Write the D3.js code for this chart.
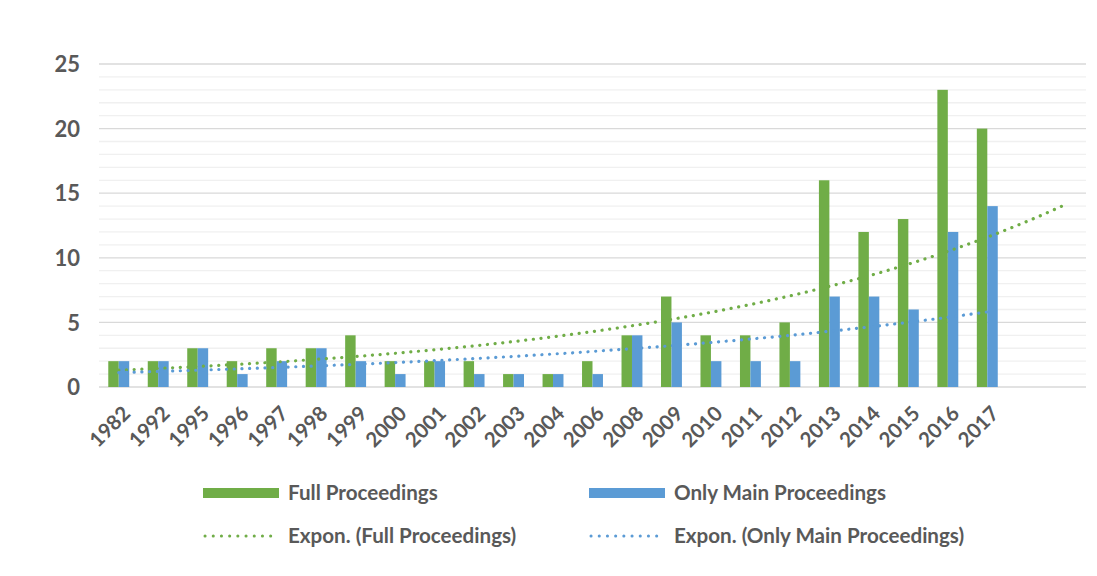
<!DOCTYPE html>
<html>
<head>
<meta charset="utf-8">
<script src="https://cdn.jsdelivr.net/npm/d3@7"></script>
<style>
  html, body { margin: 0; padding: 0; background: #fff; }
  svg text { font-family: Lato, "Open Sans", sans-serif; fill: #595959; }
</style>
</head>
<body>
<svg id="chart" width="1097" height="576"></svg>
<script>
const years = ["1982","1992","1995","1996","1997","1998","1999","2000","2001","2002","2003","2004","2006","2008","2009","2010","2011","2012","2013","2014","2015","2016","2017"];
const fullProceedings = [2,2,3,2,3,3,4,2,2,2,1,1,2,4,7,4,4,5,16,12,13,23,20];
const onlyMainProceedings = [2,2,3,1,2,3,2,1,2,1,1,1,1,4,5,2,2,2,7,7,6,12,14];
const yTicks = [0,5,10,15,20,25];
const forecastForward = 2; // forward periods for full-proceedings trend

const seriesNames = ["Full Proceedings","Only Main Proceedings"];
const trendNames = ["Expon. (Full Proceedings)","Expon. (Only Main Proceedings)"];
const colors = ["#70AD47","#5B9BD5"];

(function () {
const svg = d3.select("#chart");
const pLeft = 99, pRight = 1086, pTop = 64, pBottom = 387;

// band slots: data categories + forecast slots
const slots = years.concat(d3.range(forecastForward).map(i => "_f" + i));
const x = d3.scaleBand().domain(slots).range([pLeft, pRight]).paddingInner(0).paddingOuter(0);
const y = d3.scaleLinear().domain([0, 25]).range([pBottom, pTop]);
const bw = x.bandwidth();
const barW = bw * 0.265;

// gridlines (minor every 1, major every 5)
const minor = d3.range(1, 26).filter(v => v % 5 !== 0);
svg.append("g").selectAll("line").data(minor).join("line")
  .attr("x1", pLeft).attr("x2", pRight)
  .attr("y1", d => y(d)).attr("y2", d => y(d))
  .attr("stroke", "#f0f0f0").attr("stroke-width", 1.3);
svg.append("g").selectAll("line").data(yTicks.filter(v => v > 0)).join("line")
  .attr("x1", pLeft).attr("x2", pRight)
  .attr("y1", d => y(d)).attr("y2", d => y(d))
  .attr("stroke", "#d9d9d9").attr("stroke-width", 1.3);
svg.append("line").attr("x1", pLeft).attr("x2", pRight)
  .attr("y1", y(0)).attr("y2", y(0)).attr("stroke", "#d9d9d9").attr("stroke-width", 1.5);

// y axis labels
const yAxis = d3.axisLeft(y).tickValues(yTicks).tickSize(0).tickPadding(0);
const gy = svg.append("g").attr("transform", `translate(${pLeft - 19},0)`).call(yAxis);
gy.select(".domain").remove();
gy.selectAll("text").attr("font-size", 22).attr("fill", "#595959").attr("font-weight", 700)
  .style("font-family", "Lato, sans-serif").attr("dy", "0.35em");

// bars
const series = [fullProceedings, onlyMainProceedings];
series.forEach((vals, si) => {
  svg.append("g").selectAll("rect").data(vals).join("rect")
    .attr("x", (d, i) => x(years[i]) + bw / 2 + (si === 0 ? -barW : 0))
    .attr("width", barW)
    .attr("y", d => y(d))
    .attr("height", d => y(0) - y(d))
    .attr("fill", colors[si]);
});

// exponential trendlines (least squares on ln y, x = 1..n)
function expFit(vals) {
  const n = vals.length;
  const xs = d3.range(1, n + 1);
  const ls = vals.map(v => Math.log(v));
  const mx = d3.mean(xs), ml = d3.mean(ls);
  let sxy = 0, sxx = 0;
  xs.forEach((xi, i) => { sxy += (xi - mx) * (ls[i] - ml); sxx += (xi - mx) * (xi - mx); });
  const b = sxy / sxx, a = ml - b * mx;
  return t => Math.exp(a + b * t);
}
const xPos = t => x(years[0]) + bw / 2 + (t - 1) * bw;
const forwards = [forecastForward - 0.08, 0];
series.forEach((vals, si) => {
  const f = expFit(vals);
  const tEnd = vals.length + forwards[si];
  const pts = d3.range(1, tEnd, 0.1).concat([tEnd]).map(t => [xPos(t), y(f(t))]);
  svg.append("path").attr("d", d3.line()(pts))
    .attr("fill", "none").attr("stroke", colors[si]).attr("stroke-width", 3.2)
    .attr("stroke-linecap", "round").attr("stroke-dasharray", "0.1 7.6");
});

// x axis labels
const gx = svg.append("g");
gx.selectAll("text").data(years).join("text")
  .attr("transform", d => `translate(${x(d) + bw / 2 + 2},${pBottom + 17}) rotate(-45)`)
  .attr("text-anchor", "end").attr("dy", "0.75em")
  .attr("font-size", 20.5).attr("font-weight", 700)
  .text(d => d);

// legend
const legend = [
  {name: seriesNames[0], color: colors[0], type: "bar", x: 203, y: 493},
  {name: seriesNames[1], color: colors[1], type: "bar", x: 589, y: 493},
  {name: trendNames[0], color: colors[0], type: "dot", x: 203, y: 536},
  {name: trendNames[1], color: colors[1], type: "dot", x: 589, y: 536}
];
legend.forEach(l => {
  if (l.type === "bar") {
    svg.append("rect").attr("x", l.x).attr("y", l.y - 5).attr("width", 76).attr("height", 10).attr("fill", l.color);
  } else {
    svg.append("line").attr("x1", l.x + 2).attr("x2", l.x + 75).attr("y1", l.y).attr("y2", l.y)
      .attr("stroke", l.color).attr("stroke-width", 3).attr("stroke-linecap", "round")
      .attr("stroke-dasharray", "0.1 8.1");
  }
  svg.append("text").attr("x", l.x + 85).attr("y", l.y).attr("dy", "0.35em")
    .attr("font-size", 20.6).attr("font-weight", 700).text(l.name);
});
})();
</script>
</body>
</html>
